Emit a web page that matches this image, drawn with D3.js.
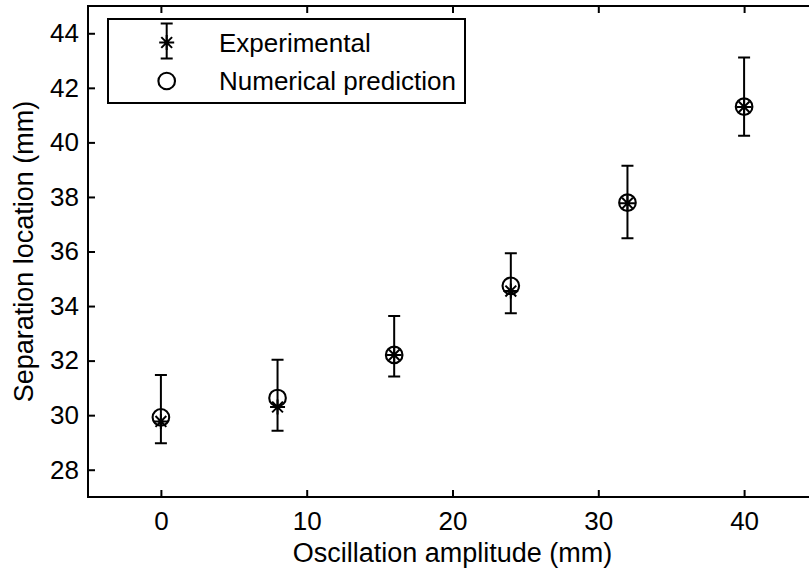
<!DOCTYPE html>
<html>
<head>
<meta charset="utf-8">
<script src="https://cdn.jsdelivr.net/npm/d3@7"></script>
<style>
  html, body { margin: 0; padding: 0; background: #fff; }
  svg { display: block; }
  text { font-family: "Liberation Sans", Arial, Helvetica, sans-serif; fill: #000; }
</style>
</head>
<body>
<script>
// Oscillation amplitude (mm)
const amplitudes = [0, 8, 16, 24, 32, 40];
// Measured separation location (mm) and its error range
const experimental = [29.77, 30.30, 32.21, 34.55, 37.77, 41.30];
const errorLow  = [28.97, 29.43, 31.42, 33.74, 36.49, 40.24];
const errorHigh = [31.47, 32.03, 33.64, 35.94, 39.14, 43.11];
// Computed separation location (mm)
const numerical = [29.92, 30.63, 32.21, 34.74, 37.79, 41.31];

const xTicks = [0, 10, 20, 30, 40];
const yTicks = [28, 30, 32, 34, 36, 38, 40, 42, 44];
const legendLabels = ["Experimental", "Numerical prediction"];

const W = 809, H = 573;
const margin = { left: 88, top: 6, right: -8, bottom: 76 };
const innerW = W - margin.left - margin.right;
const innerH = H - margin.top - margin.bottom;

const svg = d3.select("body").append("svg").attr("width", W).attr("height", H);
const g = svg.append("g").attr("transform", `translate(${margin.left},${margin.top})`);

const x = d3.scaleLinear().domain([-5, 45]).range([0, innerW]);
const y = d3.scaleLinear().domain([27, 45]).range([innerH, 0]);

const fontSize = 26;
const titleSize = 27;
const tickLen = 7;
const lw = 2;

function styleAxis(sel, showText) {
  sel.select(".domain").remove();
  sel.selectAll(".tick line").attr("stroke", "#000").attr("stroke-width", lw);
  sel.selectAll(".tick text")
    .style("font-size", fontSize + "px")
    .attr("fill", "#000")
    .attr("display", showText ? null : "none");
}

// Axes with inward ticks on all four sides
g.append("g").attr("transform", `translate(0,${innerH})`)
  .call(d3.axisBottom(x).tickValues(xTicks).tickSizeInner(-tickLen).tickSizeOuter(0).tickPadding(15))
  .call(s => styleAxis(s, true));
g.append("g")
  .call(d3.axisTop(x).tickValues(xTicks).tickSizeInner(-tickLen).tickSizeOuter(0))
  .call(s => styleAxis(s, false));
g.append("g")
  .call(d3.axisLeft(y).tickValues(yTicks).tickSizeInner(-tickLen).tickSizeOuter(0).tickPadding(9))
  .call(s => styleAxis(s, true));
g.append("g").attr("transform", `translate(${innerW},0)`)
  .call(d3.axisRight(y).tickValues(yTicks).tickSizeInner(-tickLen).tickSizeOuter(0))
  .call(s => styleAxis(s, false));

// Frame
g.append("rect")
  .attr("x", 0).attr("y", 0).attr("width", innerW).attr("height", innerH)
  .attr("fill", "none").attr("stroke", "#000").attr("stroke-width", lw);

// Axis titles
svg.append("text")
  .attr("x", margin.left + innerW / 2).attr("y", 562)
  .attr("text-anchor", "middle").style("font-size", titleSize + "px")
  .text("Oscillation amplitude (mm)");
svg.append("text")
  .attr("transform", `translate(33,${margin.top + innerH / 2}) rotate(-90)`)
  .attr("text-anchor", "middle").style("font-size", titleSize + "px")
  .text("Separation location (mm)");

// Marker helpers
const capHalf = 6;
const starR = 7.5;
function drawStar(sel, cx, cy) {
  const d = starR * 0.72;
  const p = `M${cx - starR},${cy}L${cx + starR},${cy}` +
            `M${cx},${cy - starR}L${cx},${cy + starR}` +
            `M${cx - d},${cy - d}L${cx + d},${cy + d}` +
            `M${cx - d},${cy + d}L${cx + d},${cy - d}`;
  sel.append("path").attr("d", p).attr("stroke", "#000").attr("stroke-width", lw).attr("fill", "none");
}
function drawErrorBar(sel, cx, yTop, yBot) {
  const p = `M${cx},${yTop}L${cx},${yBot}` +
            `M${cx - capHalf},${yTop}L${cx + capHalf},${yTop}` +
            `M${cx - capHalf},${yBot}L${cx + capHalf},${yBot}`;
  sel.append("path").attr("d", p).attr("stroke", "#000").attr("stroke-width", lw).attr("fill", "none");
}
function drawCircle(sel, cx, cy) {
  sel.append("circle").attr("cx", cx).attr("cy", cy).attr("r", 8.3)
    .attr("fill", "none").attr("stroke", "#000").attr("stroke-width", 2.1);
}

// Data marks
const marks = g.append("g");
amplitudes.forEach((a, i) => {
  const cx = x(a);
  drawErrorBar(marks, cx, y(errorHigh[i]), y(errorLow[i]));
  drawStar(marks, cx, y(experimental[i]));
  drawCircle(marks, cx, y(numerical[i]));
});

// Legend
const lg = svg.append("g");
lg.append("rect").attr("x", 108).attr("y", 19).attr("width", 357).attr("height", 84)
  .attr("fill", "#fff").attr("stroke", "#000").attr("stroke-width", lw);
drawErrorBar(lg, 166.7, 23.5, 58.5);
drawStar(lg, 166.7, 42.5);
drawCircle(lg, 166.7, 81);
lg.append("text").attr("x", 219).attr("y", 51.5).style("font-size", fontSize + "px").text(legendLabels[0]);
lg.append("text").attr("x", 219).attr("y", 90).style("font-size", fontSize + "px").text(legendLabels[1]);
</script>
</body>
</html>
